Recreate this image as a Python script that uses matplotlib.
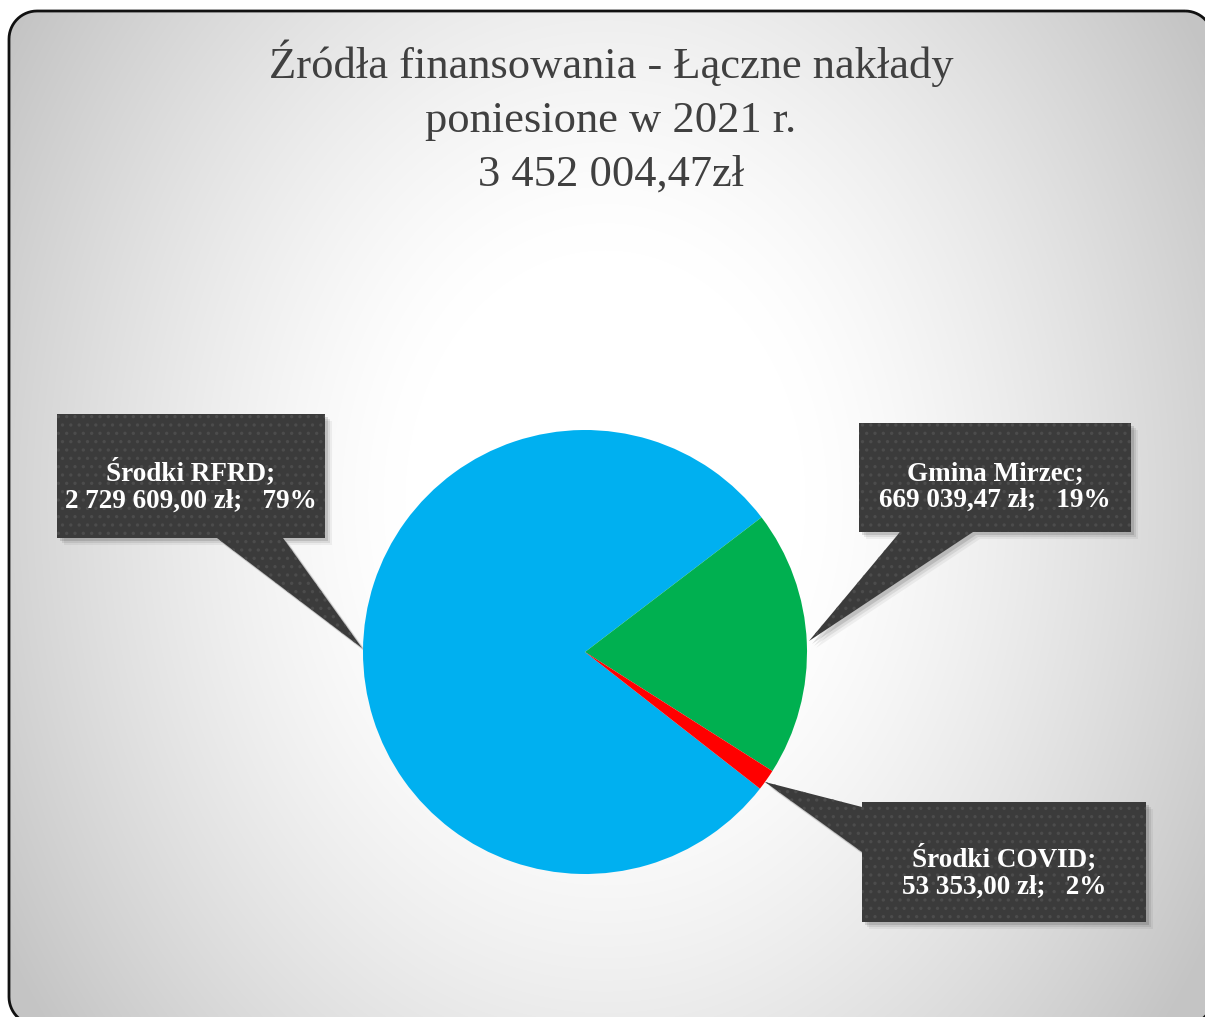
import numpy as np
import matplotlib
matplotlib.use("Agg")
import matplotlib.pyplot as plt
from matplotlib.patches import Polygon

# ---- data ----
categories = ["Środki RFRD", "Gmina Mirzec", "Środki COVID"]
values = [2729609.00, 669039.47, 53353.00]
value_labels = ["2 729 609,00 zł", "669 039,47 zł", "53 353,00 zł"]
percent_labels = ["79%", "19%", "2%"]
colors = ["#00B0F0", "#00B050", "#FF0000"]
title_lines = ["Źródła finansowania - Łączne nakłady", "poniesione w 2021 r.", "3 452 004,47zł"]

W, H = 1205, 1017
fig = plt.figure(figsize=(W / 100, H / 100), dpi=100)
fig.patch.set_facecolor("white")

# background axes in pixel coordinates (y downwards)
bg = fig.add_axes([0, 0, 1, 1])
bg.set_xlim(0, W)
bg.set_ylim(H, 0)
bg.axis("off")


def rounded_rect(x0, y0, x1, y1, r, n=16):
    pts = []
    corners = [(x1 - r, y0 + r, -90, 0), (x1 - r, y1 - r, 0, 90),
               (x0 + r, y1 - r, 90, 180), (x0 + r, y0 + r, 180, 270)]
    for cx_, cy_, a0, a1 in corners:
        for a in np.linspace(np.radians(a0), np.radians(a1), n):
            pts.append((cx_ + r * np.cos(a), cy_ + r * np.sin(a)))
    return pts


frame_pts = rounded_rect(9, 11, 1213, 1025, 28)

# elliptical radial gradient
yy, xx = np.mgrid[0:H, 0:W]
cx, cy = 605, 500
d = np.sqrt((xx - cx) ** 2 + ((yy - cy) * 0.8) ** 2)
r = np.clip((d - 200) / 500, 0, 1)
val = 1.0 - 0.23 * r ** 1.3
img = np.dstack([val, val, val])
im = bg.imshow(img, extent=(0, W, H, 0), zorder=1, interpolation="bilinear", aspect="auto")
clip = Polygon(frame_pts, closed=True, facecolor="none", edgecolor="none", transform=bg.transData)
bg.add_patch(clip)
im.set_clip_path(clip)
bg.add_patch(Polygon(frame_pts, closed=True, facecolor="none", edgecolor="#111111",
                     linewidth=2.0, zorder=3))
bg.set_xlim(0, W)
bg.set_ylim(H, 0)

# title
for i, line in enumerate(title_lines):
    bg.text(611, 78 + i * 54, line, ha="center", va="baseline", fontsize=32,
            family="Liberation Serif", color="#404040", zorder=5)

# pie axes
pcx, pcy, pr = 585, 652, 222
pax = fig.add_axes([(pcx - pr) / W, (H - pcy - pr) / H, 2 * pr / W, 2 * pr / H])
wedges, _ = pax.pie(values, colors=colors, startangle=-38, counterclock=False,
                    wedgeprops=dict(linewidth=0))
pax.set_xlim(-1, 1)
pax.set_ylim(-1, 1)
pax.axis("off")

# callouts (pixel coordinates)
box_fc = "#3b3b3b"
plt.rcParams["hatch.linewidth"] = 1.2
callouts = [
    dict(box=(57, 414, 325, 538), side="bottom", base=(217, 283), tip=(362, 648), text=(191, 486)),
    dict(box=(859, 423, 1131, 532), side="bottom", base=(900, 973), tip=(809, 641), text=(995, 487)),
    dict(box=(862, 802, 1146, 922), side="left", base=(807, 852), tip=(765, 782), text=(1004, 872)),
]

for i, c in enumerate(callouts):
    x0, y0, x1, y1 = c["box"]
    b0, b1 = c["base"]
    tx, ty = c["tip"]
    if c["side"] == "bottom":
        pts = [(x0, y0), (x1, y0), (x1, y1), (b1, y1), (tx, ty), (b0, y1), (x0, y1)]
    else:
        pts = [(x0, y0), (x1, y0), (x1, y1), (x0, y1), (x0, b1), (tx, ty), (x0, b0)]
    for k, a in [(7, 0.05), (5, 0.08), (3, 0.12)]:
        sh = Polygon([(p[0] + k, p[1] + k) for p in pts], closed=True,
                     facecolor="black", edgecolor="none", alpha=a, zorder=6)
        bg.add_patch(sh)
    bg.add_patch(Polygon(pts, closed=True, facecolor=box_fc, edgecolor="none", zorder=7))
    bg.add_patch(Polygon(pts, closed=True, facecolor="none", edgecolor="#4c4c4c", hatch="..",
                         linewidth=0, zorder=8))
    label = f"{categories[i]};\n{value_labels[i]};   {percent_labels[i]}"
    bg.text(c["text"][0], c["text"][1], label, ha="center", va="center",
            fontsize=19.5, fontweight="bold", family="Liberation Serif",
            color="white", linespacing=1.12, zorder=9)

fig.savefig("out.png", dpi=100)
